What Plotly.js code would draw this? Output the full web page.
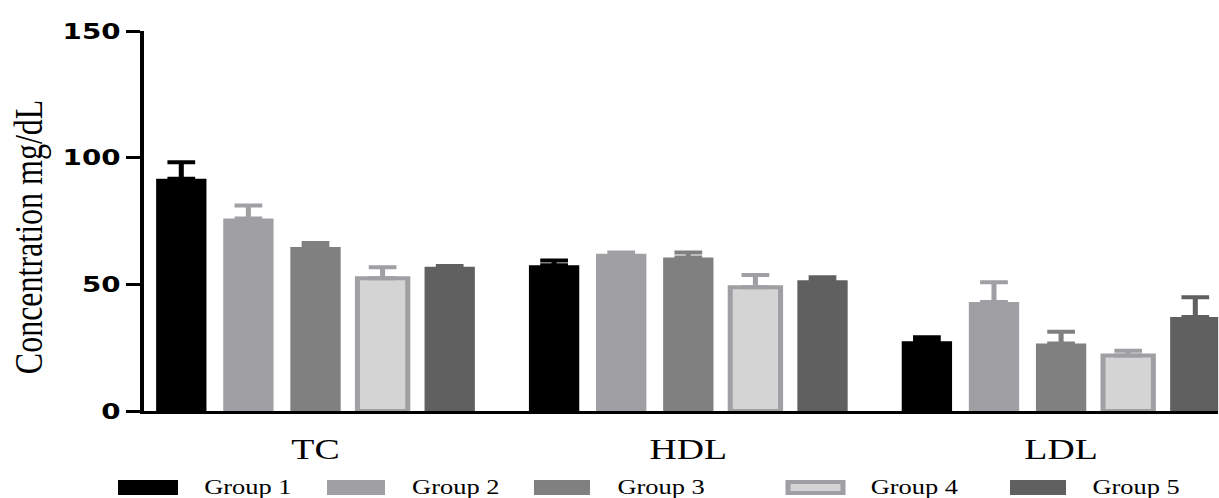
<!DOCTYPE html>
<html>
<head>
<meta charset="utf-8">
<script src="https://cdn.plot.ly/plotly-3.0.1.min.js"></script>
<style>
  html, body { margin: 0; padding: 0; background: #fff; overflow: hidden; }
  #chart { width: 967px; height: 498px; transform: scaleX(1.26); transform-origin: 0 0; }
</style>
</head>
<body>
<div id="chart"></div>
<script>
// ---- data ----
const categories = ['TC', 'HDL', 'LDL'];
const groupNames = ['Group 1', 'Group 2', 'Group 3', 'Group 4', 'Group 5'];

const group1 = [91.7, 57.5, 27.5];
const group2 = [76.0, 62.1, 43.0];
const group3 = [64.7, 60.6, 26.6];
const group4 = [52.4, 48.8, 21.9];
const group5 = [56.9, 51.6, 37.1];

const group1Err = [6.5, 1.9, 1.6];
const group2Err = [5.1, 0.5, 7.8];
const group3Err = [1.6, 2.0, 4.7];
const group4Err = [4.3, 4.9, 1.9];
const group5Err = [0.3, 1.2, 7.8];

const yTicks = [0, 50, 100, 150];
const yTitle = 'Concentration mg/dL';

// ---- styles ----
const values = [group1, group2, group3, group4, group5];
const errors = [group1Err, group2Err, group3Err, group4Err, group5Err];
const fills   = ['#000000', '#a0a0a4', '#808080', '#d4d4d4', '#606060'];
const borders = ['#000000', '#a0a0a4', '#808080', '#a0a0a4', '#606060'];
const borderW = [0, 0, 0, 4, 0];

const K = 1.26;               // horizontal stretch of the reference
const W = 967, H = 498;
const M = {l: 114, r: 0, t: 31, b: 87};
const plotW = W - M.l - M.r, plotH = H - M.t - M.b;
const px = sx => (sx / K - M.l) / plotW;      // reference pixel x -> paper
const py = sy => (H - M.b - sy) / plotH;      // reference pixel y -> paper

const traces = groupNames.map((name, i) => ({
  type: 'bar',
  name: name,
  x: categories,
  y: values[i],
  marker: {color: fills[i], line: {color: borders[i], width: borderW[i]}},
  error_y: {
    type: 'data', symmetric: false,
    array: errors[i], arrayminus: errors[i].map(() => 0),
    color: borders[i], thickness: 4, width: 11
  },
  showlegend: false,
  hoverinfo: 'skip'
}));

// legend drawn as shapes + text (reference uses wide swatches)
const swatchX = [[118, 178], [327, 385], [534, 590], [788, 843], [1010, 1066]];
const labelX  = [202, 409, 615, 868, 1090];
const shapes = [];
const annotations = [];
groupNames.forEach((name, i) => {
  shapes.push({
    type: 'rect', xref: 'paper', yref: 'paper',
    x0: px(swatchX[i][0]) , x1: px(swatchX[i][1]),
    y0: py(495 - (borderW[i] ? 2 : 0)), y1: py(480 + (borderW[i] ? 2 : 0)),
    fillcolor: fills[i],
    line: {color: borders[i], width: borderW[i] ? 4 : 0}
  });
  annotations.push({
    xref: 'paper', yref: 'paper', x: px(labelX[i]), y: py(487),
    xanchor: 'left', yanchor: 'middle', showarrow: false,
    text: name,
    font: {family: 'Liberation Serif, Times New Roman, serif', size: 21, color: '#000'}
  });
});
annotations.push({
  xref: 'paper', yref: 'paper', x: px(28), y: py(237),
  xanchor: 'center', yanchor: 'middle', showarrow: false,
  textangle: -90, text: yTitle,
  font: {family: 'Liberation Serif, Times New Roman, serif', size: 32, color: '#000'}
});

const layout = {
  width: W, height: H,
  margin: M,
  paper_bgcolor: '#fff', plot_bgcolor: '#fff',
  barmode: 'group', bargap: 0.1, bargroupgap: 0.25,
  showlegend: false,
  xaxis: {
    type: 'category',
    range: [-0.461, 2.422],
    showline: true, linecolor: '#000', linewidth: 3,
    ticks: '', showgrid: false, zeroline: false,
    ticklabelstandoff: 9,
    tickfont: {family: 'Liberation Serif, Times New Roman, serif', size: 30, color: '#000'}
  },
  yaxis: {
    range: [0, 150],
    tickvals: yTicks, ticktext: yTicks.map(String),
    showline: true, linecolor: '#000', linewidth: 3,
    ticks: 'outside', ticklen: 11, tickwidth: 3, tickcolor: '#000',
    showgrid: false, zeroline: false,
    tickfont: {family: 'DejaVu Sans, sans-serif', size: 22, weight: 'bold', color: '#000'}
  },
  shapes: shapes,
  annotations: annotations
};

Plotly.newPlot('chart', traces, layout, {displayModeBar: false, staticPlot: true});
</script>
</body>
</html>
